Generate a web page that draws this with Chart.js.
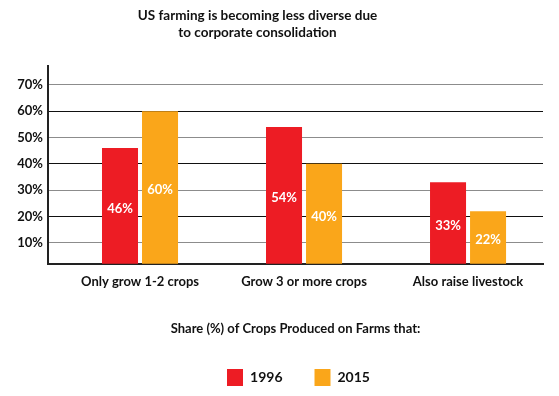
<!DOCTYPE html>
<html><head><meta charset="utf-8">
<script src="https://cdn.jsdelivr.net/npm/chart.js@4"></script>
<style>html,body{margin:0;padding:0;background:#fff}#wrap{width:559px;height:396px;position:relative}</style>
</head><body><div id="wrap"><canvas id="c"></canvas></div>
<script>
const categories = ['Only grow 1-2 crops', 'Grow 3 or more crops', 'Also raise livestock'];
const seriesLabels = ['1996', '2015'];
const values1996 = [46, 54, 33];
const values2015 = [60, 40, 22];
const yTicks = [10, 20, 30, 40, 50, 60, 70];
const titleLines = ['US farming is becoming less diverse due', 'to corporate consolidation'];
const xAxisTitle = 'Share (%) of Crops Produced on Farms that:';

const RED = '#ED1C24', ORANGE = '#FAA61A', INK = '#111';
const FONT = 'Lato, "Open Sans", sans-serif';

const toPoints = arr => arr.map((v, i) => ({ x: i, y: v }));

const barLabels = {
  id: 'barLabels',
  afterDatasetsDraw(chart) {
    const ctx = chart.ctx;
    ctx.save();
    ctx.fillStyle = '#fff';
    ctx.font = 'bold 13px ' + FONT;
    ctx.textAlign = 'center';
    ctx.textBaseline = 'middle';
    chart.data.datasets.forEach((ds, di) => {
      chart.getDatasetMeta(di).data.forEach((bar, i) => {
        ctx.fillText(ds.data[i].y + '%', bar.x, (bar.y + bar.base) / 2);
      });
    });
    ctx.restore();
  }
};

const shiftBlocks = {
  id: 'shiftBlocks',
  afterLayout(chart) {
    if (chart.legend) { chart.legend.left += 20; chart.legend.right += 20; }
    if (chart.titleBlock) { chart.titleBlock.left -= 21; chart.titleBlock.right -= 21; }
  }
};

new Chart(document.getElementById('c'), {
  type: 'bar',
  data: {
    datasets: [
      { label: seriesLabels[0], data: toPoints(values1996), backgroundColor: RED },
      { label: seriesLabels[1], data: toPoints(values2015), backgroundColor: ORANGE }
    ]
  },
  options: {
    responsive: true,
    maintainAspectRatio: false,
    animation: false,
    categoryPercentage: 0.488,
    barPercentage: 0.9,
    layout: { padding: { left: 14, right: 16, top: 0, bottom: 0 } },
    scales: {
      x: {
        type: 'linear',
        offset: false,
        min: -0.561,
        max: 2.457,
        afterBuildTicks: s => { s.ticks = categories.map((c, i) => ({ value: i })); },
        grid: { display: false, drawTicks: false },
        border: { display: true, color: '#222', width: 2 },
        ticks: {
          callback: v => categories[v],
          color: INK,
          font: { family: FONT, size: 13, weight: 'bold' },
          padding: 10,
          maxRotation: 0,
          autoSkip: false
        },
        title: {
          display: true,
          text: xAxisTitle,
          color: INK,
          font: { family: FONT, size: 13, weight: 'bold' },
          padding: { top: 22, bottom: 0 }
        }
      },
      y: {
        min: 2,
        max: 77,
        afterBuildTicks: s => { s.ticks = yTicks.map(v => ({ value: v })); },
        afterFit: s => { s.width = 34; },
        grid: {
          drawTicks: false,
          color: c => (c.tick && c.tick.value % 20 === 0) ? '#111' : '#8c8c8c',
          lineWidth: 1
        },
        border: { display: true, color: '#222', width: 2 },
        ticks: {
          callback: v => v + '%',
          color: INK,
          font: { family: FONT, size: 13, weight: 'bold' },
          padding: 5
        }
      }
    },
    plugins: {
      title: {
        display: true,
        text: titleLines,
        color: INK,
        font: { family: FONT, size: 13.5, weight: 'bold', lineHeight: 1.2 },
        padding: { top: 8, bottom: 26 }
      },
      legend: {
        position: 'bottom',
        labels: {
          boxWidth: 16,
          boxHeight: 17,
          padding: 32,
          color: INK,
          font: { family: FONT, size: 14, weight: 'bold' }
        }
      },
      tooltip: { enabled: false }
    }
  },
  plugins: [barLabels, shiftBlocks]
});
</script>
</body></html>
